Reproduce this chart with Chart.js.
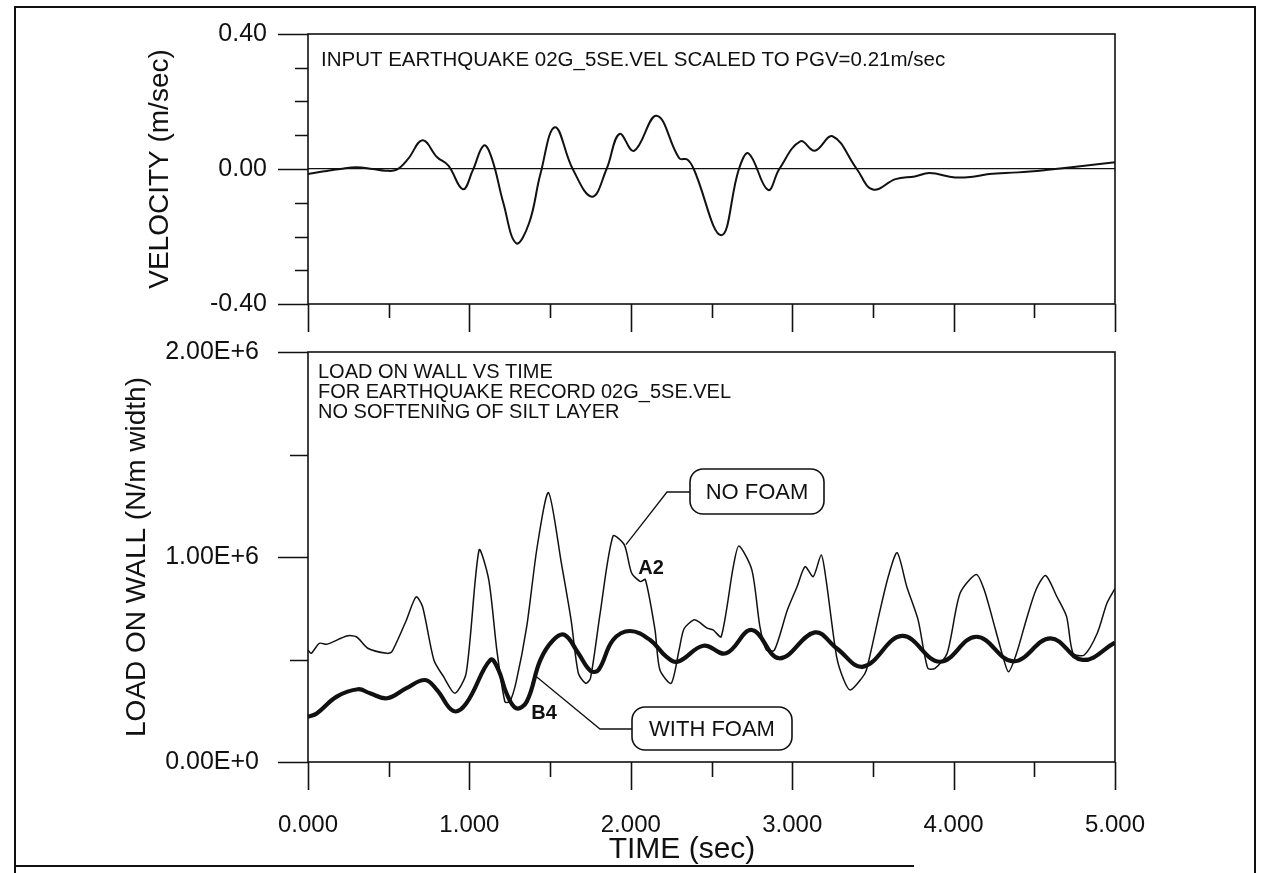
<!DOCTYPE html>
<html>
<head>
<meta charset="utf-8">
<title>Load on wall vs time</title>
<script src="https://cdn.jsdelivr.net/npm/chart.js@4.4.1/dist/chart.umd.min.js"></script>
<style>
  html, body { margin: 0; padding: 0; background: #fff; }
  body { width: 1268px; height: 873px; position: relative; overflow: hidden; }
  /* page border: open at the lower right, base line runs only part way */
  #frame { position: absolute; left: 14px; top: 6px; width: 1242px; height: 867px;
           border: 2px solid #111; border-bottom: none; box-sizing: border-box; }
  #frameBase { position: absolute; left: 14px; top: 865px; width: 900px; height: 2px; background: #111; }
  canvas { position: absolute; left: 0; }
  #velChart { top: 0; }
  #loadChart { top: 340px; }
</style>
</head>
<body>
<div id="frame"></div>
<div id="frameBase"></div>
<canvas id="velChart" width="1268" height="340"></canvas>
<canvas id="loadChart" width="1268" height="533"></canvas>
<script>
// input record 02G_5SE.VEL (m/sec)
const velTime = [0.00, 0.10, 0.20, 0.30, 0.40, 0.48, 0.55, 0.62, 0.71, 0.80, 0.87, 0.96, 1.02, 1.09,
  1.14, 1.21, 1.29, 1.37, 1.44, 1.53, 1.64, 1.76, 1.85, 1.93, 2.02, 2.16, 2.30, 2.35, 2.39, 2.56,
  2.67, 2.73, 2.85, 2.92, 3.05, 3.14, 3.25, 3.40, 3.50, 3.64, 3.76, 3.85, 4.01, 4.13, 4.22, 4.40,
  4.57, 4.73, 5.00];
const velocity = [-0.015, -0.007, 0.000, 0.005, 0.000, -0.005, -0.002, 0.030, 0.085, 0.035, 0.010,
  -0.060, -0.005, 0.070, 0.030, -0.100, -0.220, -0.160, -0.015, 0.124, 0.000, -0.082, 0.000, 0.104,
  0.054, 0.158, 0.032, 0.028, 0.000, -0.196, 0.000, 0.046, -0.062, 0.000, 0.082, 0.054, 0.097,
  0.000, -0.061, -0.030, -0.022, -0.012, -0.025, -0.022, -0.015, -0.010, -0.003, 0.005, 0.020];

// wall load without foam (A2), N/m width
const noFoamTime = [0.00, 0.02, 0.07, 0.12, 0.24, 0.30, 0.37, 0.49, 0.52, 0.61, 0.67, 0.71, 0.78,
  0.84, 0.91, 0.98, 1.06, 1.12, 1.17, 1.22, 1.25, 1.29, 1.355, 1.42, 1.49, 1.57, 1.63, 1.675, 1.72,
  1.75, 1.81, 1.89, 1.96, 2.005, 2.06, 2.09, 2.15, 2.18, 2.25, 2.30, 2.33, 2.39, 2.42, 2.47, 2.51,
  2.56, 2.635, 2.67, 2.75, 2.80, 2.84, 2.89, 2.97, 3.03, 3.08, 3.13, 3.18, 3.21, 3.275, 3.32, 3.36,
  3.43, 3.46, 3.54, 3.595, 3.65, 3.71, 3.78, 3.84, 3.885, 3.96, 4.04, 4.14, 4.19, 4.26, 4.30, 4.34,
  4.39, 4.45, 4.51, 4.57, 4.64, 4.70, 4.74, 4.81, 4.89, 4.95, 5.00];
const noFoamLoad = [546e3, 530e3, 579e3, 575e3, 615e3, 611e3, 555e3, 530e3, 538e3, 693e3, 806e3,
  757e3, 498e3, 416e3, 335e3, 433e3, 1034e3, 888e3, 546e3, 294e3, 294e3, 392e3, 660e3, 1050e3,
  1314e3, 969e3, 693e3, 433e3, 384e3, 408e3, 725e3, 1102e3, 1059e3, 922e3, 880e3, 890e3, 644e3,
  450e3, 384e3, 550e3, 650e3, 693e3, 685e3, 654e3, 644e3, 611e3, 953e3, 1054e3, 937e3, 660e3,
  546e3, 546e3, 741e3, 855e3, 953e3, 904e3, 1010e3, 888e3, 514e3, 400e3, 351e3, 408e3, 449e3,
  725e3, 904e3, 1021e3, 855e3, 693e3, 457e3, 457e3, 530e3, 823e3, 915e3, 839e3, 644e3, 530e3,
  440e3, 530e3, 693e3, 839e3, 910e3, 806e3, 709e3, 530e3, 522e3, 628e3, 774e3, 846e3];

// wall load with foam (B4), N/m width
const foamTime = [0.00, 0.054, 0.178, 0.31, 0.384, 0.49, 0.61, 0.725, 0.80, 0.90, 0.98, 1.13, 1.18,
  1.23, 1.29, 1.355, 1.44, 1.52, 1.59, 1.675, 1.75, 1.80, 1.89, 1.995, 2.12, 2.22, 2.29, 2.45, 2.59,
  2.75, 2.92, 3.14, 3.275, 3.44, 3.68, 3.915, 4.14, 4.37, 4.60, 4.80, 5.00];
const foamLoad = [221e3, 237e3, 319e3, 355e3, 335e3, 311e3, 360e3, 400e3, 351e3, 249e3, 285e3,
  498e3, 449e3, 335e3, 262e3, 294e3, 498e3, 595e3, 620e3, 530e3, 445e3, 449e3, 595e3, 639e3,
  595e3, 514e3, 489e3, 567e3, 530e3, 644e3, 506e3, 632e3, 555e3, 465e3, 615e3, 489e3, 611e3,
  491e3, 603e3, 498e3, 582e3];

// axis ticks
const timeTicks = [0, 0.5, 1, 1.5, 2, 2.5, 3, 3.5, 4, 4.5, 5];
const timeMajor = [0, 1, 2, 3, 4, 5];
const timeLabels = ['0.000', '1.000', '2.000', '3.000', '4.000', '5.000'];
const velTicks = [-0.4, -0.3, -0.2, -0.1, 0, 0.1, 0.2, 0.3, 0.4];
const velMajor = [-0.4, 0, 0.4];
const velLabels = ['-0.40', '0.00', '0.40'];
const loadTicks = [0, 0.5e6, 1e6, 1.5e6, 2e6];
const loadMajor = [0, 1e6, 2e6];
const loadLabels = ['0.00E+0', '1.00E+6', '2.00E+6'];

const FONT = "'Liberation Sans', Arial, Helvetica, sans-serif";
Chart.defaults.font.family = FONT;
Chart.defaults.color = '#111';

const pts = (xs, ys) => xs.map((t, i) => ({ x: t, y: ys[i] }));
const near = (a, b) => Math.abs(a - b) < 1e-6 * Math.max(1, Math.abs(b));

// fixed-width y axis; drop the label padding chart.js adds above/below
const fixYAxis = s => { s.width = 308; s.paddingTop = 0; s.paddingBottom = 0; };

// plot box plus outward tick marks (long at labelled values, short between)
const axisMarks = {
  id: 'axisMarks',
  afterDraw(chart, args, o) {
    const { ctx, chartArea: a, scales: { x, y } } = chart;
    ctx.save();
    ctx.strokeStyle = '#111';
    ctx.lineWidth = 1.6;
    ctx.strokeRect(a.left, a.top, a.right - a.left, a.bottom - a.top);
    ctx.beginPath();
    o.xTicks.forEach(v => {
      const px = Math.round(x.getPixelForValue(v)) + 0.5;
      const len = o.xMajor.some(m => near(v, m)) ? o.xLong : o.xShort;
      ctx.moveTo(px, a.bottom);
      ctx.lineTo(px, a.bottom + len);
    });
    o.yTicks.forEach(v => {
      const py = Math.round(y.getPixelForValue(v)) + 0.5;
      const len = o.yMajor.some(m => near(v, m)) ? o.yLong : o.yShort;
      ctx.moveTo(a.left, py);
      ctx.lineTo(a.left - len, py);
    });
    ctx.stroke();
    ctx.restore();
  }
};

// text notes and boxed callouts with leader lines to the curves
const notes = {
  id: 'notes',
  afterDatasetsDraw(chart, args, o) {
    const { ctx, chartArea: a, scales: { x, y } } = chart;
    ctx.save();
    ctx.fillStyle = '#111';
    ctx.strokeStyle = '#111';
    ctx.textBaseline = 'middle';
    (o.lines || []).forEach(n => {
      ctx.font = n.font;
      ctx.textAlign = 'left';
      ctx.fillText(n.text, a.left + n.dx, a.top + n.dy);
    });
    (o.tags || []).forEach(n => {
      ctx.font = n.font;
      ctx.textAlign = 'center';
      ctx.fillText(n.text, a.left + n.dx, a.top + n.dy);
    });
    (o.callouts || []).forEach(c => {
      const [bx, by, bw, bh] = c.box;
      ctx.lineWidth = 1.3;
      ctx.beginPath();
      ctx.moveTo(x.getPixelForValue(c.tip[0]), y.getPixelForValue(c.tip[1]));
      ctx.lineTo(a.left + c.elbow[0], a.top + c.elbow[1]);
      ctx.lineTo(a.left + bx, a.top + c.elbow[1]);
      ctx.stroke();
      ctx.lineWidth = 1.6;
      ctx.beginPath();
      ctx.roundRect(a.left + bx, a.top + by, bw, bh, 13);
      ctx.stroke();
      ctx.font = c.font;
      ctx.textAlign = 'center';
      ctx.fillText(c.text, a.left + bx + bw / 2, a.top + by + bh / 2 + 1);
    });
    ctx.restore();
  }
};

// upper panel: input velocity
new Chart(document.getElementById('velChart'), {
  type: 'line',
  data: {
    datasets: [{
      data: pts(velTime, velocity),
      borderColor: '#111',
      borderWidth: 2,
      pointRadius: 0,
      tension: 0.4,
      fill: false
    }]
  },
  options: {
    responsive: false,
    animation: false,
    events: [],
    layout: { padding: { top: 34, right: 153, left: 0, bottom: 0 } },
    plugins: {
      legend: { display: false },
      tooltip: { enabled: false },
      axisMarks: {
        xTicks: timeTicks, xMajor: timeMajor, xLong: 28, xShort: 14,
        yTicks: velTicks, yMajor: velMajor, yLong: 30, yShort: 13
      },
      notes: {
        lines: [{ text: 'INPUT EARTHQUAKE 02G_5SE.VEL SCALED TO PGV=0.21m/sec', dx: 13, dy: 26, font: '20.5px ' + FONT }]
      }
    },
    scales: {
      x: {
        type: 'linear', min: 0, max: 5,
        ticks: { display: false },
        grid: { display: false },
        border: { display: false },
        afterFit: s => { s.height = 36; }
      },
      y: {
        type: 'linear', min: -0.4, max: 0.4,
        afterFit: fixYAxis,
        ticks: {
          stepSize: 0.4, padding: 41, font: { size: 25 },
          callback: (v, i) => velLabels[i]
        },
        grid: {
          drawTicks: false,
          lineWidth: 1.2,
          color: c => (c.tick && near(c.tick.value, 0)) ? '#111' : 'rgba(0,0,0,0)'
        },
        border: { display: false },
        title: { display: true, text: 'VELOCITY (m/sec)', font: { size: 28 }, padding: { top: 143, bottom: 0 } }
      }
    }
  },
  plugins: [axisMarks, notes]
});

// lower panel: load on wall
new Chart(document.getElementById('loadChart'), {
  type: 'line',
  data: {
    datasets: [{
      label: 'NO FOAM',
      data: pts(noFoamTime, noFoamLoad),
      borderColor: '#111',
      borderWidth: 1.5,
      pointRadius: 0,
      tension: 0.25,
      fill: false
    }, {
      label: 'WITH FOAM',
      data: pts(foamTime, foamLoad),
      borderColor: '#111',
      borderWidth: 4.2,
      pointRadius: 0,
      tension: 0.4,
      fill: false
    }]
  },
  options: {
    responsive: false,
    animation: false,
    events: [],
    layout: { padding: { top: 12, right: 153, left: 0, bottom: 0 } },
    plugins: {
      legend: { display: false },
      tooltip: { enabled: false },
      axisMarks: {
        xTicks: timeTicks, xMajor: timeMajor, xLong: 28, xShort: 15,
        yTicks: loadTicks, yMajor: loadMajor, yLong: 30, yShort: 18
      },
      notes: {
        lines: [
          { text: 'LOAD ON WALL VS TIME', dx: 10, dy: 20, font: '20px ' + FONT },
          { text: 'FOR EARTHQUAKE RECORD 02G_5SE.VEL', dx: 10, dy: 40, font: '20px ' + FONT },
          { text: 'NO SOFTENING OF SILT LAYER', dx: 10, dy: 60, font: '20px ' + FONT }
        ],
        tags: [
          { text: 'A2', dx: 343, dy: 216, font: 'bold 20px ' + FONT },
          { text: 'B4', dx: 236, dy: 361, font: 'bold 20px ' + FONT },
          { text: 'TIME (sec)', dx: 374, dy: 498, font: '30px ' + FONT }
        ],
        callouts: [
          { text: 'NO FOAM', tip: [1.97, 1.06e6], elbow: [359, 140], box: [382, 117, 134, 45], font: '22px ' + FONT },
          { text: 'WITH FOAM', tip: [1.41, 0.42e6], elbow: [292, 377], box: [324, 355, 160, 43], font: '22px ' + FONT }
        ]
      }
    },
    scales: {
      x: {
        type: 'linear', min: 0, max: 5,
        afterFit: s => { s.height = 111; },
        ticks: {
          stepSize: 1, padding: 41, font: { size: 24 }, maxRotation: 0,
          callback: (v, i) => timeLabels[i]
        },
        grid: { display: false },
        border: { display: false }
      },
      y: {
        type: 'linear', min: 0, max: 2e6,
        afterFit: fixYAxis,
        ticks: {
          stepSize: 1e6, padding: 41, font: { size: 25 },
          callback: (v, i) => loadLabels[i]
        },
        grid: { display: false },
        border: { display: false },
        title: { display: true, text: 'LOAD ON WALL (N/m width)', font: { size: 28 }, padding: { top: 120, bottom: 0 } }
      }
    }
  },
  plugins: [axisMarks, notes]
});
</script>
</body>
</html>
